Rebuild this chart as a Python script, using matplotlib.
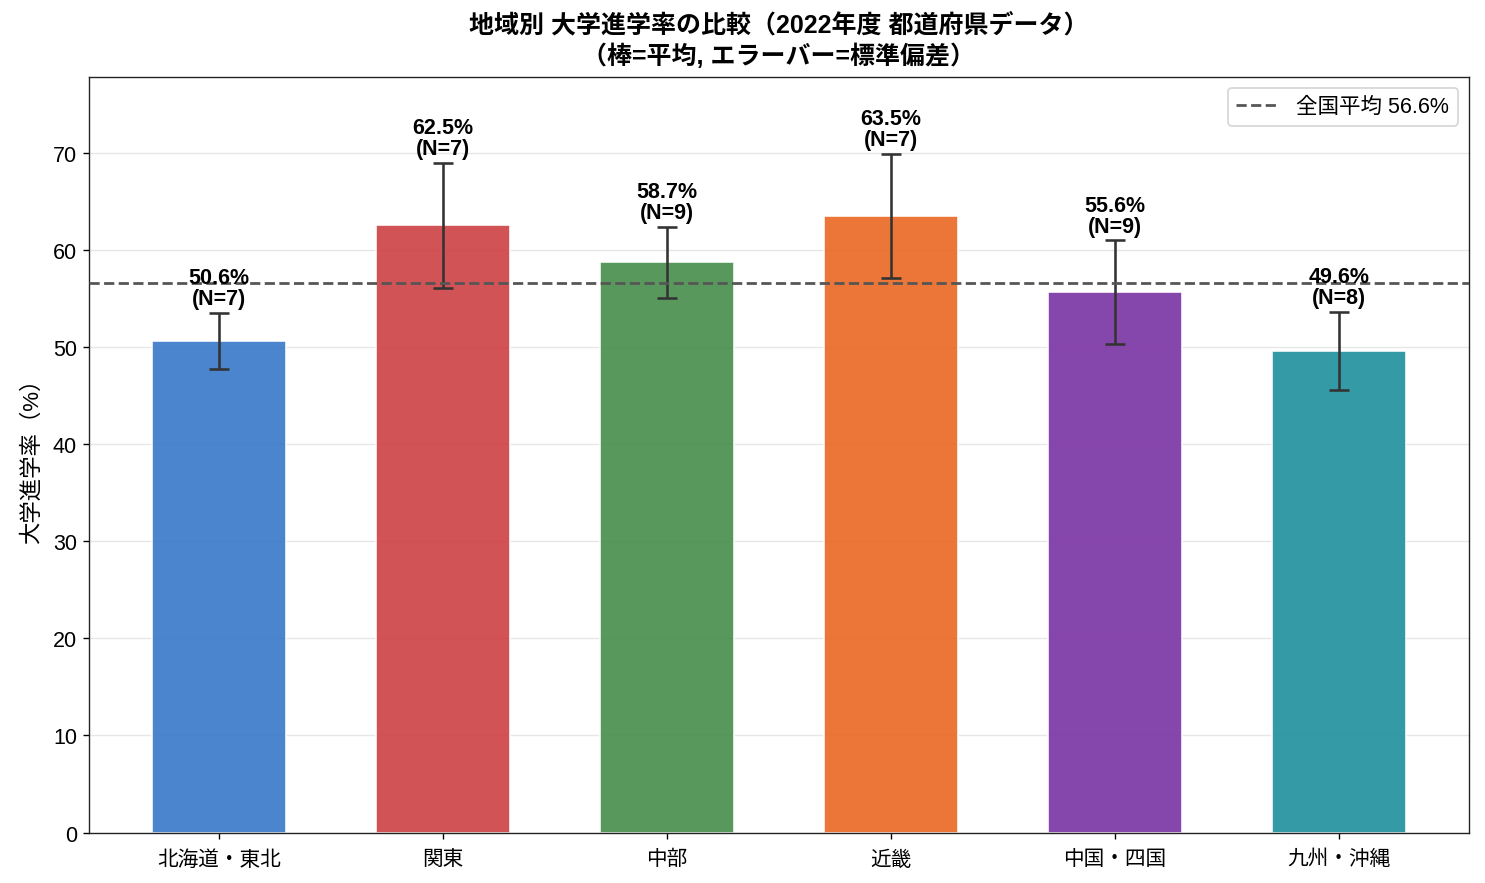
import matplotlib
matplotlib.use("Agg")
import matplotlib.pyplot as plt
import numpy as np

plt.rcParams['font.family'] = ['Liberation Sans', 'Noto Sans CJK JP', 'DejaVu Sans']

regions = ["北海道・東北", "関東", "中部", "近畿", "中国・四国", "九州・沖縄"]
means = [50.6, 62.5, 58.7, 63.5, 55.6, 49.6]
stds = [2.9, 6.4, 3.65, 6.4, 5.35, 4.0]
counts = [7, 7, 9, 7, 9, 8]
colors = ["#3a7bca", "#cf4446", "#4a8f4e", "#ea6a26", "#7c37a6", "#23929e"]
national_avg = 56.6

fig, ax = plt.subplots(figsize=(11.976, 7.129), dpi=124)
x = np.arange(len(regions))

ax.bar(x, means, width=0.6, color=colors, alpha=0.92, edgecolor="white",
       linewidth=1.0, zorder=2)
ax.errorbar(x, means, yerr=stds, fmt="none", ecolor="#333333",
            elinewidth=1.5, capsize=6, capthick=1.5, zorder=3)

for xi, m, s, n in zip(x, means, stds, counts):
    ax.text(xi, m + s + 0.4, f"{m:.1f}%\n(N={n})", ha="center", va="bottom",
            fontsize=12.5, fontweight="bold", linespacing=1.0, zorder=4)

ax.axhline(national_avg, color="#555555", linestyle="--", linewidth=1.6,
           label=f"全国平均 {national_avg}%", zorder=3)

ax.set_xticks(x)
ax.set_xticklabels(regions, fontsize=12)
ax.tick_params(axis="x", pad=6)
ax.tick_params(axis="y", labelsize=12.5)
ax.set_ylim(0, 77.8)
ax.set_ylabel("大学進学率（%）", fontsize=13, labelpad=6)
ax.set_title("地域別 大学進学率の比較（2022年度 都道府県データ）\n（棒=平均, エラーバー=標準偏差）",
             fontsize=14.5, fontweight="bold", linespacing=1.3, pad=8)
ax.yaxis.grid(True, color="#e6e6e6", linewidth=0.8, zorder=0)
ax.set_axisbelow(True)
for sp in ax.spines.values():
    sp.set_color("#222222")
ax.legend(loc="upper right", fontsize=12.5)

fig.subplots_adjust(left=0.06, right=0.989, top=0.912, bottom=0.057)
fig.savefig("out.png", dpi=124)
